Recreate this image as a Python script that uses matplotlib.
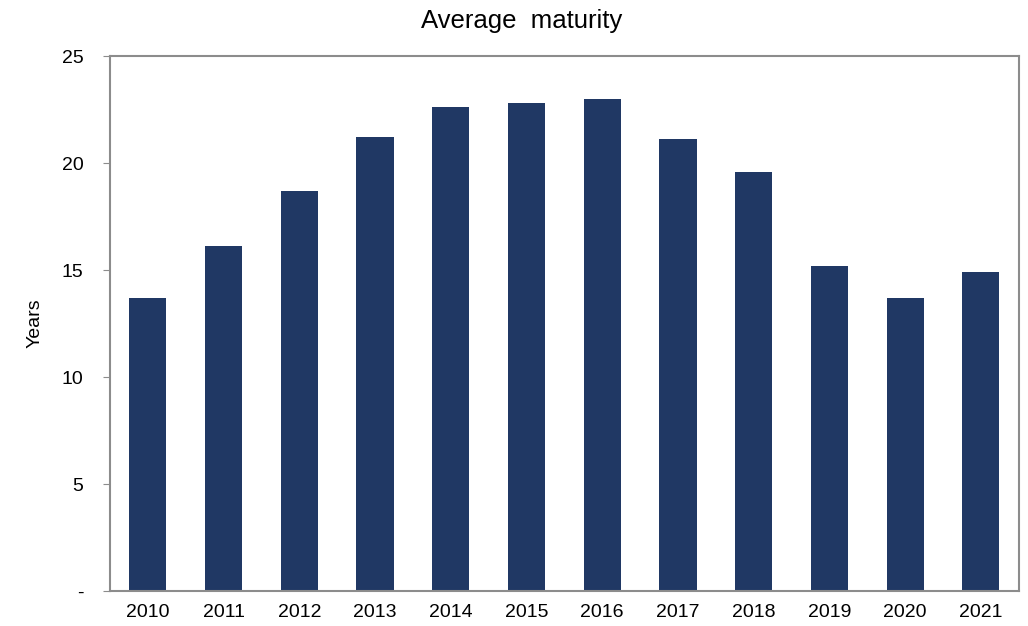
import matplotlib
matplotlib.use("Agg")
from matplotlib import pyplot as plt

# data
years = ['2010', '2011', '2012', '2013', '2014', '2015',
         '2016', '2017', '2018', '2019', '2020', '2021']
maturity = [13.7, 16.1, 18.7, 21.2, 22.6, 22.8, 23.0, 21.1, 19.6, 15.2, 13.7, 14.9]
y_ticks = [0, 5, 10, 15, 20, 25]
y_labels = ['-', '5', '10', '15', '20', '25']

plt.rcParams['font.family'] = ['Liberation Sans', 'DejaVu Sans']

fig = plt.figure(figsize=(10.28, 6.26), dpi=100)
ax = fig.add_axes([0.107, 0.0559, 0.884, 0.8546])

ax.bar(years, maturity, width=0.49, color='#203864', zorder=2)

ax.set_xlim(-0.5, len(years) - 0.5)
ax.set_ylim(0, 25)
ax.set_yticks(y_ticks)
ax.set_yticklabels(y_labels)
ax.set_ylabel('Years', fontsize=14, labelpad=13)
fig.text(0.507, 0.966, 'Average  maturity', fontsize=18.5, ha='center', va='center')

for s in ax.spines.values():
    s.set_color('#8c8c8c')
    s.set_linewidth(1.5)

ax.tick_params(axis='y', length=5, color='#8c8c8c', labelsize=14, pad=14)
ax.tick_params(axis='x', length=0, labelsize=14, pad=9)

plt.savefig('out.png', dpi=100)
